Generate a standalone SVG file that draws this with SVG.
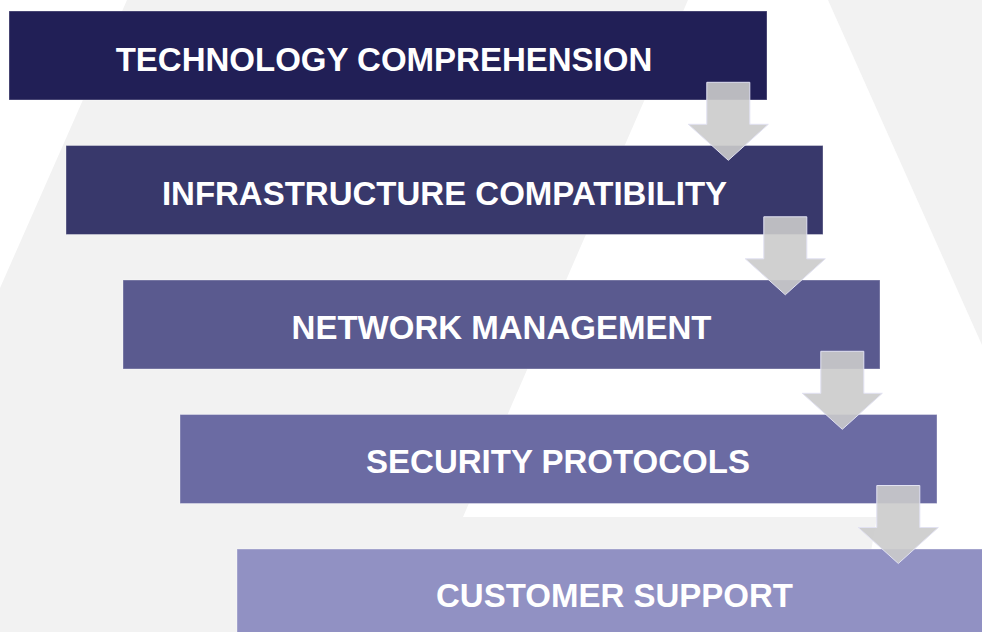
<svg xmlns="http://www.w3.org/2000/svg" width="982" height="632" viewBox="0 0 982 632">
  <style>
    .bg { fill: #f2f2f2; }
    .box { stroke: #ffffff; stroke-opacity: 0.35; stroke-width: 1; }
    .lbl { fill: #ffffff; font-family: "Liberation Sans", Arial, sans-serif; font-weight: bold; font-size: 33px; text-anchor: middle; }
    .arrow { fill: #cbcbcb; fill-opacity: 0.9; stroke: #e2e2f2; stroke-width: 1; }
  </style>
  <defs>
    <path id="arr" d="M -21.5 0 L 21.5 0 L 21.5 42 L 40 42 L 0 78 L -40 42 L -21.5 42 Z"/>
  </defs>
  <rect x="0" y="0" width="982" height="632" fill="#ffffff"/>
  <g id="background">
    <polygon class="bg" points="127,0 688,0 463,517 877,517 857,632 0,632 0,288"/>
    <polygon class="bg" points="828,0 982,0 982,345"/>
  </g>
  <g id="node1">
    <rect class="box" x="9" y="11" width="758" height="89" fill="#211f56"/>
    <text class="lbl" x="384" y="71">TECHNOLOGY COMPREHENSION</text>
  </g>
  <g id="node2">
    <rect class="box" x="66" y="145.5" width="757" height="89" fill="#38386b"/>
    <text class="lbl" x="444.5" y="205">INFRASTRUCTURE COMPATIBILITY</text>
  </g>
  <g id="node3">
    <rect class="box" x="123" y="280" width="757" height="89" fill="#5a5a8f"/>
    <text class="lbl" x="501.5" y="339">NETWORK MANAGEMENT</text>
  </g>
  <g id="node4">
    <rect class="box" x="180" y="414.5" width="757" height="89" fill="#6b6ba3"/>
    <text class="lbl" x="558" y="472.5">SECURITY PROTOCOLS</text>
  </g>
  <g id="node5">
    <rect class="box" x="237" y="549" width="757" height="89" fill="#9191c3"/>
    <text class="lbl" x="614.5" y="607">CUSTOMER SUPPORT</text>
  </g>
  <g id="connectors">
    <use href="#arr" class="arrow" x="728.3" y="82.3"/>
    <use href="#arr" class="arrow" x="785.3" y="216.8"/>
    <use href="#arr" class="arrow" x="842.3" y="351.3"/>
    <use href="#arr" class="arrow" x="898.3" y="485.5"/>
  </g>
</svg>
